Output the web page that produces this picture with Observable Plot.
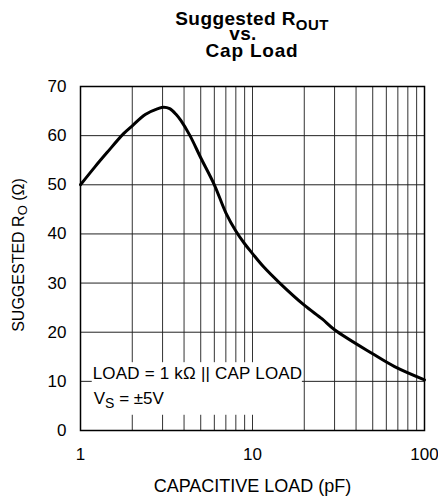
<!DOCTYPE html>
<html><head><meta charset="utf-8">
<script src="https://cdn.jsdelivr.net/npm/d3@7"></script>
<script src="https://cdn.jsdelivr.net/npm/@observablehq/plot@0.6"></script>
<style>html,body{margin:0;padding:0;background:#fff}#chart svg{display:block}</style>
</head><body><div id="chart"></div>
<script>
// ---- data ----
const capLoad = [1, 1.21, 1.43, 1.78, 2.0, 2.38, 2.82, 3.05, 3.3, 3.6, 3.83, 4.33, 5, 6, 7, 8, 9, 10, 11.6, 14.4, 20, 25.4, 30, 50, 67, 100];
const rOut    = [50, 53.6, 56.6, 60.4, 62.0, 64.3, 65.5, 65.8, 65.5, 64.3, 63.1, 60, 55.5, 50, 44.3, 40.6, 38.0, 36.0, 33.3, 30, 25.5, 22.7, 20.5, 15.6, 13.0, 10.3];
const xTickValues = [1, 10, 100];
const xGridValues = [2, 3, 4, 5, 6, 7, 8, 9, 10, 20, 30, 40, 50, 60, 70, 80, 90];
const yTickValues = [0, 10, 20, 30, 40, 50, 60, 70];
const yGridValues = [10, 20, 30, 40, 50, 60];
const titleMain = ["Suggested R", "OUT"];
const titleLine2 = "vs.";
const titleLine3 = "Cap Load";
const xLabel = "CAPACITIVE LOAD (pF)";
const yLabel = ["SUGGESTED R", "O", " (Ω)"];
const note1 = "LOAD = 1 kΩ || CAP LOAD";
const note2 = ["V", "S", " = ±5V"];

const curve = capLoad.map((x, i) => ({x, y: rOut[i]}));

// ---- layout ----
const W = 438, H = 502, mT = 86, mB = 72, mL = 80, mR = 14;
const font = "'Liberation Sans', Arial, Helvetica, sans-serif";

const plot = Plot.plot({
  width: W, height: H,
  marginTop: mT, marginBottom: mB, marginLeft: mL, marginRight: mR,
  style: {fontFamily: font, fontSize: "17px", background: "white", color: "black", overflow: "visible"},
  x: {type: "log", domain: [1, 100]},
  y: {domain: [0, 70]},
  marks: [
    Plot.ruleX(xGridValues, {stroke: "#333", strokeWidth: 1}),
    Plot.ruleY(yGridValues, {stroke: "#222", strokeWidth: 1}),
    Plot.axisX(xTickValues, {tickSize: 0, tickPadding: 17, tickFormat: d => String(d), fontSize: 17, label: null}),
    Plot.axisY(yTickValues, {tickSize: 0, tickPadding: 14, fontSize: 17, label: null}),
    Plot.frame({stroke: "black", strokeWidth: 1.5}),
    Plot.line(curve, {x: "x", y: "y", stroke: "black", strokeWidth: 3, curve: "catmull-rom"}),
    Plot.text([xLabel], {text: d => d, frameAnchor: "bottom", dy: 61, fontSize: 18, fill: "black"})
  ]
});
document.getElementById("chart").appendChild(plot);

const svg = d3.select(plot);
const xs = plot.scale("x"), ys = plot.scale("y");

// annotation background box (covers grid)
const frameNode = svg.select("[aria-label=frame]").node();
const box = document.createElementNS("http://www.w3.org/2000/svg", "rect");
const bx1 = xs.apply(1.17), bx2 = xs.apply(19.5), by1 = ys.apply(13.8), by2 = ys.apply(3.1);
box.setAttribute("x", bx1); box.setAttribute("y", by1);
box.setAttribute("width", bx2 - bx1); box.setAttribute("height", by2 - by1);
box.setAttribute("fill", "white");
plot.insertBefore(box, frameNode);

const g = svg.append("g").attr("font-family", font).attr("fill", "black").attr("text-anchor", "start");

// annotation text
g.append("text").attr("x", bx1 + 1).attr("y", ys.apply(10.3)).attr("font-size", 17).attr("letter-spacing", 0.2).text(note1);
const t2 = g.append("text").attr("x", bx1 + 2).attr("y", ys.apply(5.2)).attr("font-size", 17);
t2.append("tspan").text(note2[0]);
t2.append("tspan").attr("dy", 4).attr("font-size", 14).text(note2[1]);
t2.append("tspan").attr("dy", -4).text(note2[2]);

// title
const cx = mL + (W - mL - mR) / 2;
const tt = g.append("text").attr("x", cx).attr("y", 25).attr("text-anchor", "middle").attr("font-weight", "bold").attr("font-size", 19).attr("letter-spacing", 0.4);
tt.append("tspan").text(titleMain[0]);
tt.append("tspan").attr("dy", 5).attr("font-size", 15).text(titleMain[1]);
g.append("text").attr("x", cx - 9).attr("y", 40).attr("text-anchor", "middle").attr("font-weight", "bold").attr("font-size", 19).attr("letter-spacing", 0.4).text(titleLine2);
g.append("text").attr("x", cx).attr("y", 56.5).attr("text-anchor", "middle").attr("font-weight", "bold").attr("font-size", 19).attr("letter-spacing", 0.8).text(titleLine3);

// y label
const cy = mT + (H - mT - mB) / 2;
const yl = g.append("text").attr("transform", `translate(24,${cy - 3}) rotate(-90)`).attr("text-anchor", "middle").attr("font-size", 16);
yl.append("tspan").text(yLabel[0]);
yl.append("tspan").attr("dy", 3).attr("font-size", 13).text(yLabel[1]);
yl.append("tspan").attr("dy", -3).text(yLabel[2]);
</script>
</body></html>
